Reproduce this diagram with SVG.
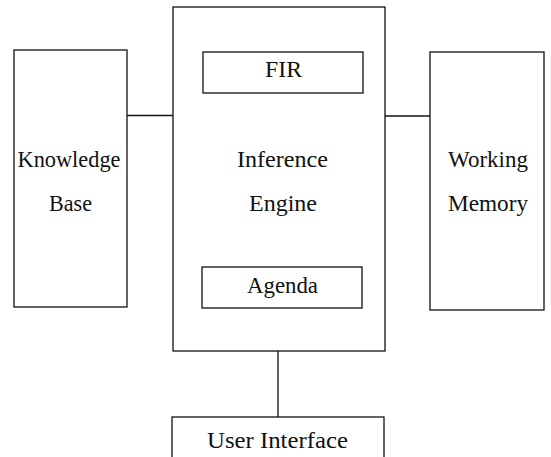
<svg xmlns="http://www.w3.org/2000/svg" width="551" height="457" viewBox="0 0 551 457">
<style>
.box{fill:#fff;stroke:#111;stroke-width:1.3}
.ln{fill:none;stroke:#111;stroke-width:1.3}
text{font-family:"Liberation Serif","Times New Roman",serif;font-size:23px;fill:#111;text-anchor:middle}
</style>
<rect width="551" height="457" fill="#fff"/>
<g id="connectors">
<line class="ln" x1="127" y1="115.5" x2="173" y2="115.5"/>
<line class="ln" x1="385" y1="116" x2="430" y2="116"/>
<line class="ln" x1="278" y1="351" x2="278" y2="417"/>
</g>
<g id="knowledge-base">
<rect class="box" x="14" y="50" width="113" height="257"/>
<text x="69" y="167" textLength="103" lengthAdjust="spacingAndGlyphs">Knowledge</text>
<text x="70.5" y="211" textLength="43" lengthAdjust="spacingAndGlyphs">Base</text>
</g>
<g id="inference-engine">
<rect class="box" x="173" y="7" width="212" height="344"/>
<text x="282.5" y="167" textLength="91" lengthAdjust="spacingAndGlyphs">Inference</text>
<text x="283" y="211" textLength="68" lengthAdjust="spacingAndGlyphs">Engine</text>
</g>
<g id="fir">
<rect class="box" x="203" y="52" width="160" height="41"/>
<text x="283.5" y="77" textLength="37" lengthAdjust="spacingAndGlyphs">FIR</text>
</g>
<g id="agenda">
<rect class="box" x="202" y="267" width="160" height="41"/>
<text x="282.5" y="293" textLength="71" lengthAdjust="spacingAndGlyphs">Agenda</text>
</g>
<g id="working-memory">
<rect class="box" x="430" y="52" width="114" height="258"/>
<text x="488" y="167" textLength="80" lengthAdjust="spacingAndGlyphs">Working</text>
<text x="488" y="211" textLength="80" lengthAdjust="spacingAndGlyphs">Memory</text>
</g>
<g id="user-interface">
<rect class="box" x="172" y="417" width="212" height="60"/>
<text x="277.5" y="448" textLength="141" lengthAdjust="spacingAndGlyphs">User  Interface</text>
</g>
</svg>
